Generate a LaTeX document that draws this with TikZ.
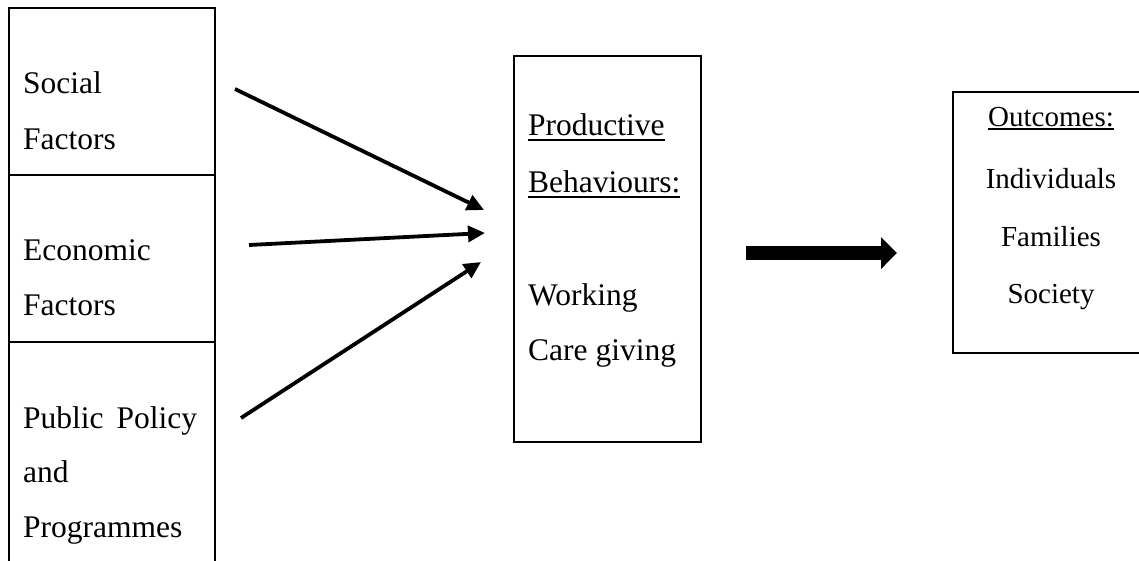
\documentclass[tikz,border=0pt]{standalone}
\usepackage{fontspec}
\setmainfont{Liberation Serif}
\usetikzlibrary{arrows.meta}

% underline drawn a little below the baseline, as wide as the word
\newcommand\ulword[2][5pt]{\setbox0\hbox{#2}\rlap{\rule[-#1]{\wd0}{1.8pt}}\box0}

\begin{document}
\begin{tikzpicture}[x=1pt,y=-1pt,
  boxline/.style={draw=black,line width=2.4pt},
  lbl/.style={inner sep=0pt,anchor=base west,font=\fontsize{31.5}{36}\selectfont},
  rlbl/.style={inner sep=0pt,anchor=base,font=\fontsize{29}{34}\selectfont},
  thin arrow/.style={line width=3.8pt,-{Triangle[length=17pt,width=16pt]}},
  thick arrow/.style={line width=14pt,-{Triangle[length=16pt,width=31pt]}}]
  \useasboundingbox (0,0) rectangle (1139,560);
  \clip (0,0) rectangle (1139,560);

  % left column of three factor boxes
  \draw[boxline] (9,8) rectangle (215,580);
  \draw[boxline] (9,175) -- (215,175);
  \draw[boxline] (9,342) -- (215,342);
  \node[lbl] (soc1) at (23,93) {Social};
  \node[lbl] (soc2) at (23,149) {Factors};
  \node[lbl] (eco1) at (23,260) {Economic};
  \node[lbl] (eco2) at (23,315) {Factors};
  \node[lbl] (pub1) at (23,428) {Public\hspace{13pt}Policy};
  \node[lbl] (pub2) at (23,482) {and};
  \node[lbl] (pub3) at (23,537) {Programmes};

  % middle box: productive behaviours
  \draw[boxline] (514,56) rectangle (701,442);
  \node[lbl] (prod1) at (528,135) {\ulword[6pt]{Productive}};
  \node[lbl] (prod2) at (528,192) {\ulword[6pt]{Behaviours:}};
  \node[lbl] (work) at (528,305) {Working};
  \node[lbl] (care) at (528,360) {Care giving};

  % right box: outcomes
  \draw[boxline] (953,92) rectangle (1150,353);
  \node[rlbl] (out0) at (1051,126) {\ulword[4pt]{Outcomes:}};
  \node[rlbl] (out1) at (1051,188) {Individuals};
  \node[rlbl] (out2) at (1051,246) {Families};
  \node[rlbl] (out3) at (1051,303) {Society};

  % arrow end points
  \coordinate (s1) at (235,89);
  \coordinate (t1) at (484,210);
  \coordinate (s2) at (249,245);
  \coordinate (t2) at (485,233);
  \coordinate (s3) at (241,418);
  \coordinate (t3) at (481,262);
  \coordinate (b1) at (746,253);
  \coordinate (b2) at (897,253);

  \draw[thin arrow] (s1) -- (t1);
  \draw[thin arrow] (s2) -- (t2);
  \draw[thin arrow] (s3) -- (t3);
  \draw[thick arrow] (b1) -- (b2);
\end{tikzpicture}
\end{document}
